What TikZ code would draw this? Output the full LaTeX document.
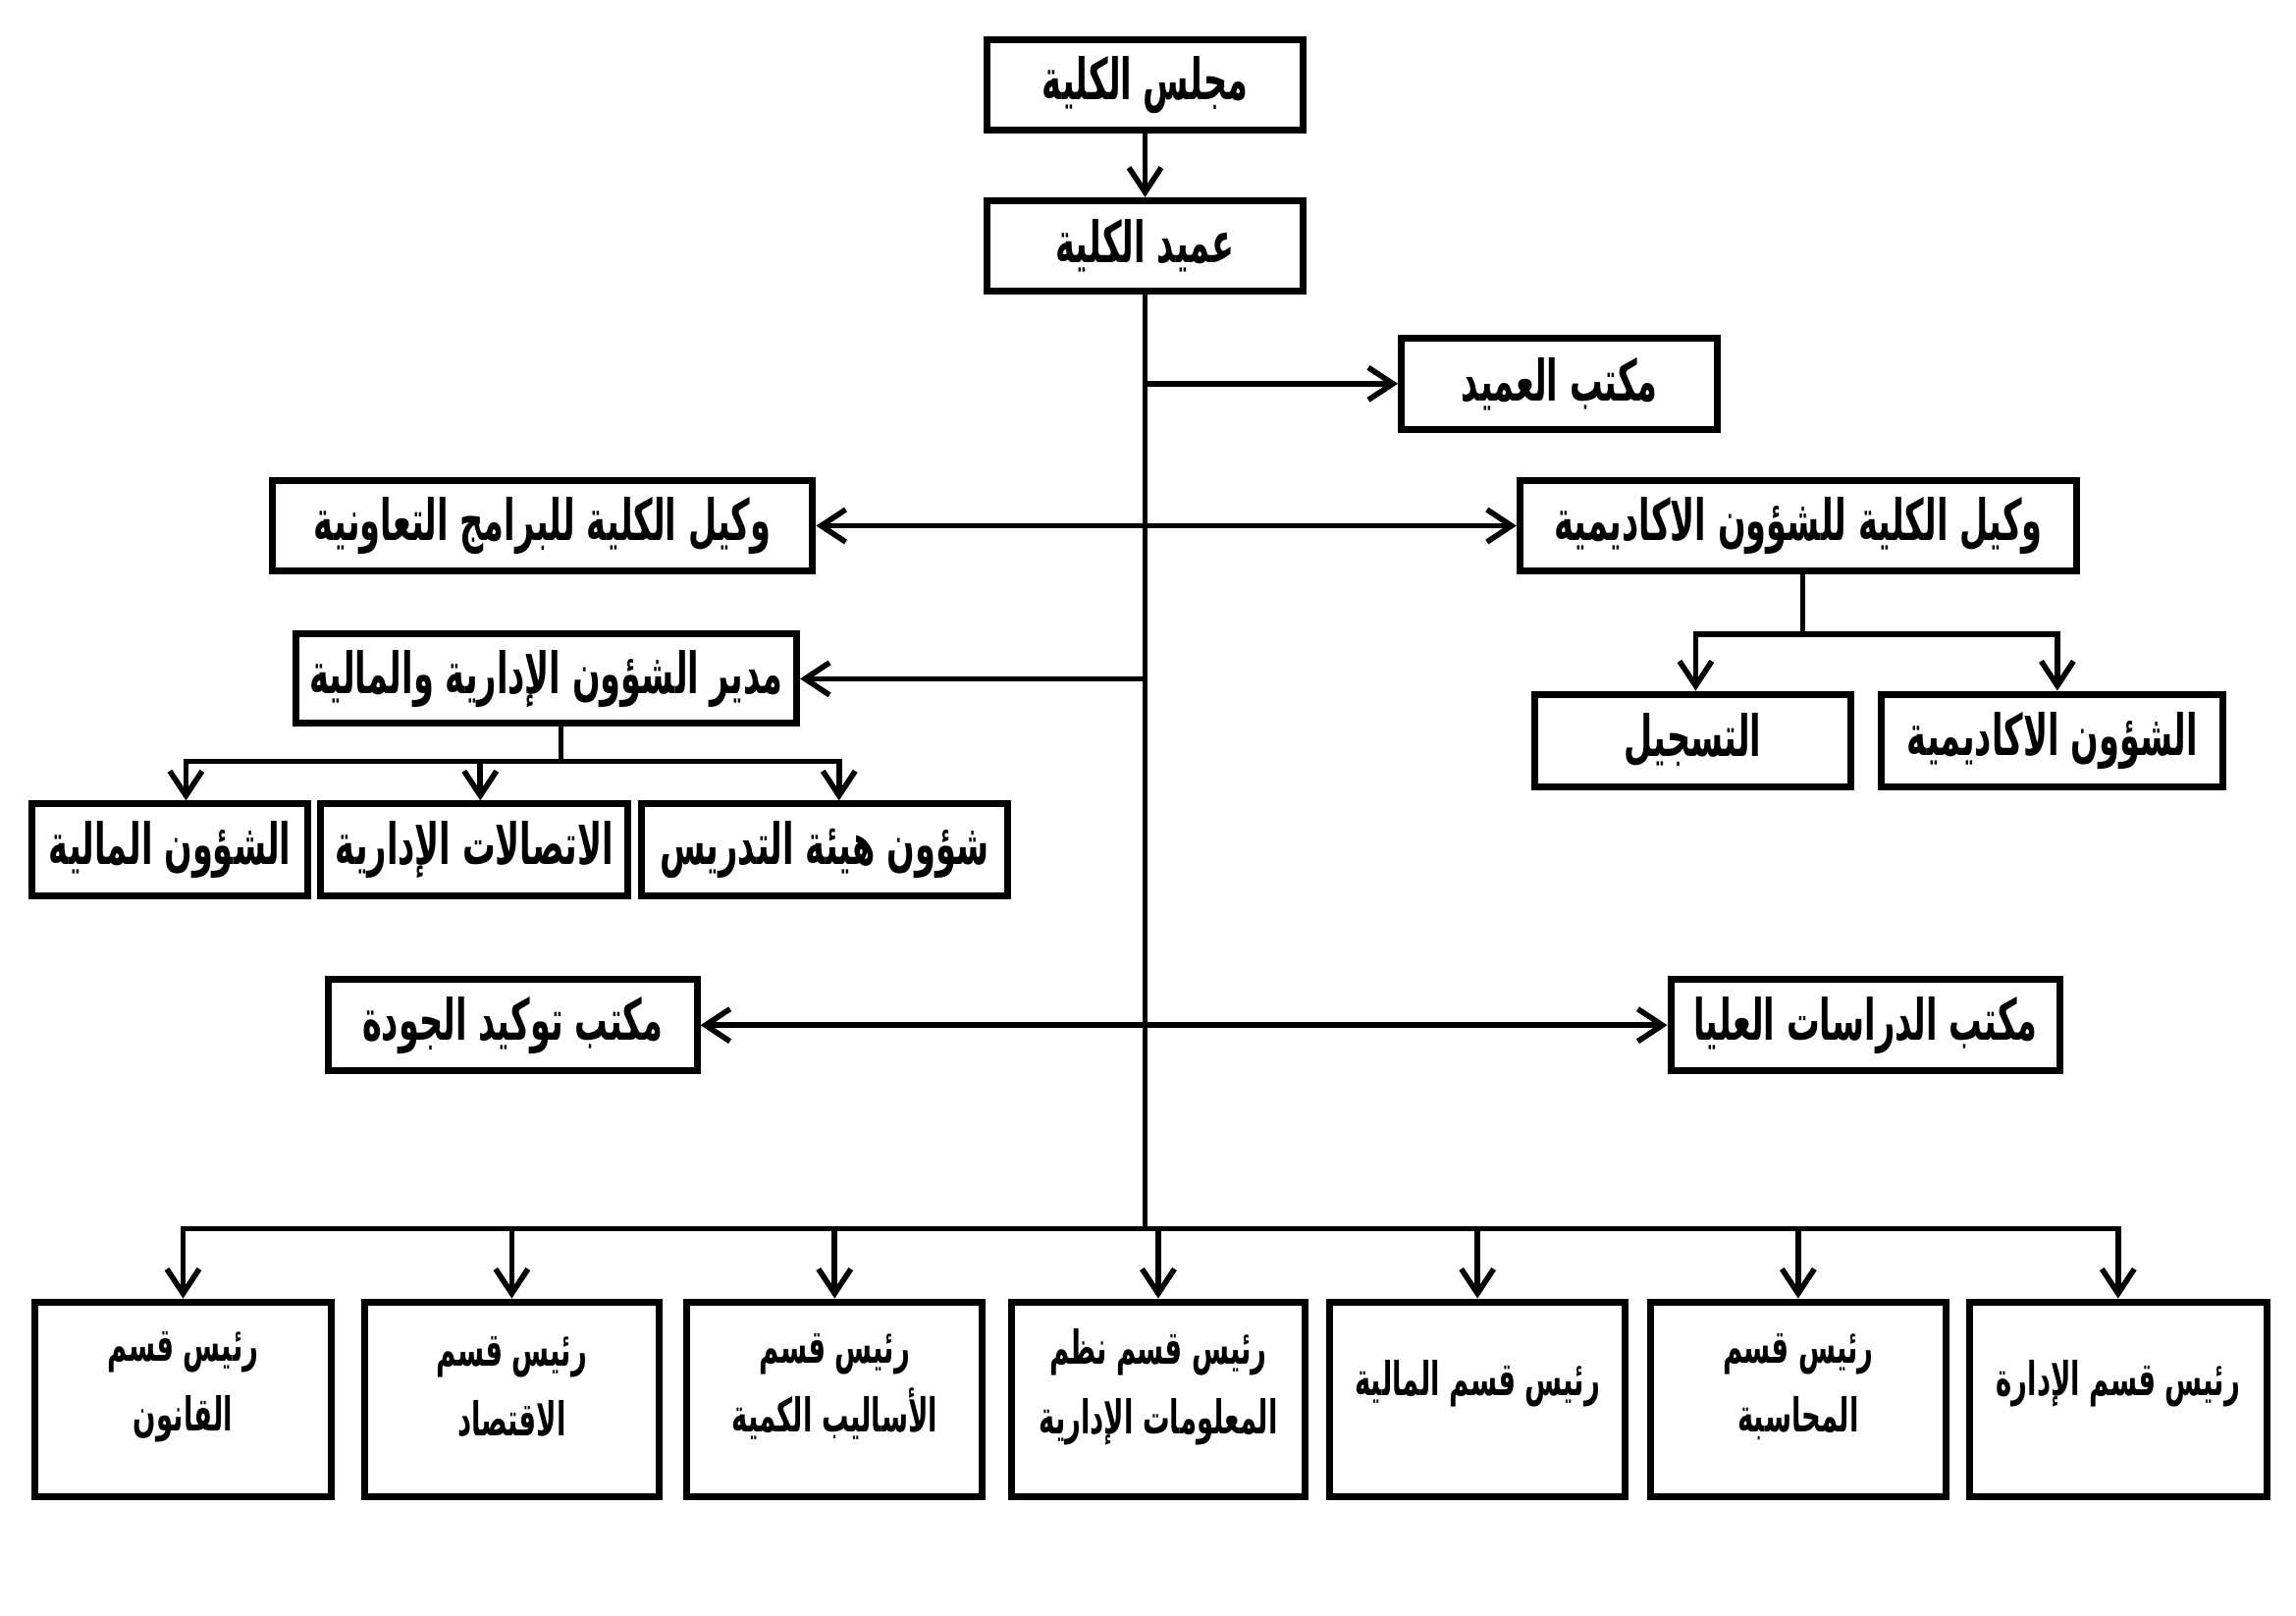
\documentclass[tikz,border=0pt]{standalone}
\usepackage{fontspec}
\usetikzlibrary{arrows.meta}
\newfontfamily\arabicfont[Script=Arabic, FakeStretch=0.58]{DejaVu Sans}
\TeXXeTstate=1
\newcommand{\AR}[1]{\beginR #1\endR}
\begin{document}
\begin{tikzpicture}[x=0.014917cm,y=-0.014917cm,
  sz/.style 2 args={minimum width={#1*0.014917cm}, minimum height={#2*0.014917cm}},
  box/.style={draw, line width=2pt, inner sep=0pt, font=\arabicfont\bfseries\fontsize{16.5}{18}\selectfont},
  dept/.style={draw, line width=2pt, inner sep=0pt},
  depttext/.style={inner sep=0pt, align=center, font=\arabicfont\bfseries\fontsize{13.5}{20}\selectfont},
  conn/.style={line width=1.6pt},
  arr/.style={conn, -{Straight Barb[length=2.5mm,width=3.3mm,line width=1.6pt]}},
  darr/.style={conn, {Straight Barb[length=2.5mm,width=3.3mm,line width=1.6pt]}-{Straight Barb[length=2.5mm,width=3.3mm,line width=1.6pt]}},
]
\fill[white] (0,0) rectangle (1568,1103);
\useasboundingbox (0,0) rectangle (1568,1103);

\node[box, sz={216}{62}] (majlis) at (782,58) {\AR{مجلس الكلية}};
\node[box, sz={216}{62}] (amid) at (782,168) {\AR{عميد الكلية}};
\node[box, sz={216}{62}] (office) at (1065,262) {\AR{مكتب العميد}};
\node[box, sz={369}{62}] (vcoop) at (370.5,359) {\AR{وكيل الكلية للبرامج التعاونية}};
\node[box, sz={380}{62}] (vacad) at (1228,359) {\AR{وكيل الكلية للشؤون الاكاديمية}};
\node[box, sz={342}{61}] (admin) at (373,463.5) {\AR{مدير الشؤون الإدارية والمالية}};
\node[box, sz={216}{63}] (reg) at (1156,505.5) {\AR{التسجيل}};
\node[box, sz={233}{63}] (acaf) at (1401.5,505.5) {\AR{الشؤون الاكاديمية}};
\node[box, sz={188}{63}] (fin) at (116,580.5) {\AR{الشؤون المالية}};
\node[box, sz={210}{63}] (comm) at (324,580.5) {\AR{الاتصالات الإدارية}};
\node[box, sz={250}{63}] (staff) at (563,580.5) {\AR{شؤون هيئة التدريس}};
\node[box, sz={252}{62}] (qual) at (350,700) {\AR{مكتب توكيد الجودة}};
\node[box, sz={266}{62}] (grad) at (1274,700) {\AR{مكتب الدراسات العليا}};

\node[dept, sz={202}{133}] (d1) at (125,955.5) {};
\node[dept, sz={201}{133}] (d2) at (349.5,955.5) {};
\node[dept, sz={202}{133}] (d3) at (570,955.5) {};
\node[dept, sz={201}{133}] (d4) at (791,955.5) {};
\node[dept, sz={202}{133}] (d5) at (1009,955.5) {};
\node[dept, sz={202}{133}] (d6) at (1228,955.5) {};
\node[dept, sz={203}{133}] (d7) at (1446.5,955.5) {};

\node[depttext] (t1) at (125,947) {\AR{رئيس قسم}\\\AR{القانون}};
\node[depttext] (t2) at (349.5,947) {\AR{رئيس قسم}\\\AR{الاقتصاد}};
\node[depttext] (t3) at (570,947) {\AR{رئيس قسم}\\\AR{الأساليب الكمية}};
\node[depttext] (t4) at (791,947) {\AR{رئيس قسم نظم}\\\AR{المعلومات الإدارية}};
\node[depttext] (t5) at (1009,945) {\AR{رئيس قسم المالية}};
\node[depttext] (t6) at (1228,947) {\AR{رئيس قسم}\\\AR{المحاسبة}};
\node[depttext] (t7) at (1446.5,945) {\AR{رئيس قسم الإدارة}};

% coordinates
\coordinate (tb) at (782,839);
\coordinate (j1) at (782,262);
\coordinate (j2) at (782,463.5);
\coordinate (ab) at (383,520);
\coordinate (af) at (127,520);
\coordinate (ac) at (328,520);
\coordinate (as) at (573,520);
\coordinate (vb) at (1231,433);
\coordinate (vr) at (1158,433);
\coordinate (va) at (1405,433);

% connectors
\draw[arr] (majlis) -- (amid);
\draw[conn] (amid.south) -- (tb);
\draw[arr] (j1) -- (office.west);
\draw[darr] (vcoop.east) -- (vacad.west);
\draw[arr] (j2) -- (admin.east);
\draw[darr] (qual.east) -- (grad.west);

\draw[conn] (admin.south -| ab) -- (ab);
\draw[arr] (ab) -| (af |- fin.north);
\draw[arr] (ab) -| (ac |- comm.north);
\draw[arr] (ab) -| (as |- staff.north);

\draw[conn] (vacad.south -| vb) -- (vb);
\draw[arr] (vb) -| (vr |- reg.north);
\draw[arr] (vb) -| (va |- acaf.north);

\foreach \d in {d1,d2,d3,d4,d5,d6,d7}
  \draw[arr] (tb) -| (\d.north);
\end{tikzpicture}
\end{document}
